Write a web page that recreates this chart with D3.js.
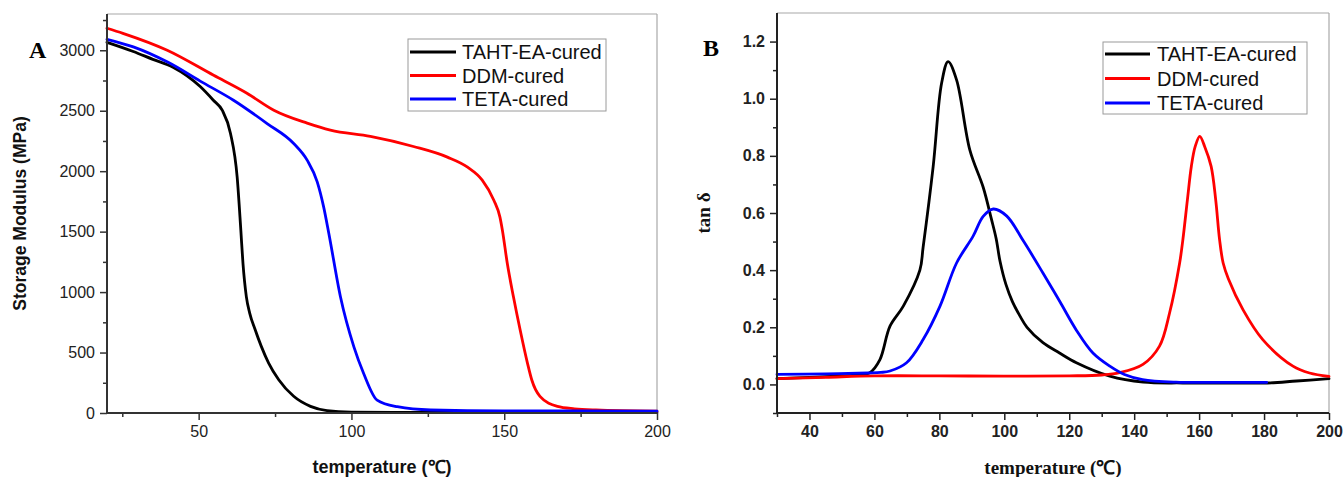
<!DOCTYPE html>
<html><head><meta charset="utf-8">
<script src="https://cdn.jsdelivr.net/npm/d3@7/dist/d3.min.js"></script>
<style>body{margin:0;background:#fff;} svg{display:block;}</style>
</head><body>
<svg id="c" width="1343" height="477"></svg>
<script>
// ---------- series ----------
const seriesNames = ["TAHT-EA-cured", "DDM-cured", "TETA-cured"];
const seriesColors = ["#000000", "#ff0000", "#0000ff"];

// ---------- Panel A data (storage modulus, MPa) ----------
const aTempBlack = [20, 28.6, 35, 41.6, 50.5, 54.8, 57.7, 60.4, 62.6, 63.8, 64.5, 65.6, 66.7, 68.5, 70.5, 72.9, 76.2, 81.1, 86.6, 92, 100, 120, 150, 200];
const aModBlack  = [3066, 2990, 2925, 2860, 2700, 2587, 2504, 2314, 1950, 1512, 1237, 963, 826, 688, 551, 413, 275, 138, 55, 20, 8, 5, 5, 5];
const aTempRed   = [20, 25.2, 39.7, 54.9, 65.8, 74.6, 85.5, 93.1, 106.2, 120.3, 131.4, 138, 142.8, 146.6, 148.6, 149.4, 151.0, 153.0, 155.2, 157.6, 159.0, 161.7, 167.4, 173, 180, 200];
const aModRed    = [3182, 3140, 3000, 2793, 2645, 2504, 2397, 2339, 2287, 2204, 2116, 2033, 1926, 1760, 1620, 1512, 1238, 963, 688, 413, 275, 138, 55, 35, 25, 15];
const aTempBlue  = [20, 28.6, 40, 50.5, 61.4, 72.4, 81.1, 85.5, 88.8, 90.9, 92.6, 96.4, 100.8, 104, 108.4, 115, 125.9, 150, 175, 200];
const aModBlue   = [3091, 3028, 2900, 2745, 2587, 2394, 2229, 2091, 1912, 1705, 1485, 961, 547, 327, 107, 52, 25, 18, 18, 15];
const aXTicks = [50, 100, 150, 200];
const aYTicks = [0, 500, 1000, 1500, 2000, 2500, 3000];

// ---------- Panel B data (tan delta) ----------
const bTempBlack = [30, 40, 50, 57, 58.6, 61.7, 64.8, 68.9, 74, 75, 78.1, 80.7, 82.7, 85.3, 89.4, 93.5, 96, 97.5, 98.7, 100.5, 102.5, 104.8, 107, 111.9, 117, 122.2, 132.5, 142.8, 155, 170, 181, 190, 200];
const bTanBlack  = [0.02, 0.025, 0.03, 0.035, 0.041, 0.087, 0.204, 0.274, 0.40, 0.48, 0.763, 1.055, 1.13, 1.066, 0.82, 0.69, 0.58, 0.51, 0.43, 0.35, 0.29, 0.24, 0.20, 0.146, 0.11, 0.076, 0.029, 0.008, 0.005, 0.005, 0.005, 0.012, 0.02];
const bTempRed   = [30, 45, 60, 80, 100, 120, 130, 135.5, 142.7, 147.8, 150.9, 154, 155, 156.4, 157.6, 158.8, 160.2, 161.7, 163.7, 165.1, 166.3, 167.4, 169, 173.5, 179.6, 188.9, 194, 200];
const bTanRed    = [0.02, 0.025, 0.03, 0.03, 0.029, 0.03, 0.033, 0.041, 0.07, 0.134, 0.25, 0.425, 0.507, 0.647, 0.763, 0.833, 0.868, 0.833, 0.763, 0.647, 0.507, 0.425, 0.37, 0.262, 0.157, 0.064, 0.04, 0.028];
const bTempBlue  = [30, 45, 58, 62, 64.8, 69.9, 75, 80.2, 85.3, 90.4, 93.5, 96.6, 100.7, 106, 111.9, 117.1, 122.2, 127.3, 132.5, 137, 142.6, 152.9, 165, 180.8];
const bTanBlue   = [0.035, 0.037, 0.04, 0.042, 0.047, 0.076, 0.157, 0.274, 0.425, 0.519, 0.588, 0.614, 0.59, 0.50, 0.39, 0.29, 0.19, 0.11, 0.064, 0.035, 0.017, 0.008, 0.007, 0.007];
const bXTicks = [40, 60, 80, 100, 120, 140, 160, 180, 200];
const bYTicks = [0.0, 0.2, 0.4, 0.6, 0.8, 1.0, 1.2];

const svg = d3.select("#c");
svg.append("rect").attr("width", 1343).attr("height", 477).attr("fill", "#fff");

function zip(xs, ys){ return xs.map((x,i)=>({x, y: ys[i]})); }

function panel(o){
  const g = svg.append("g");
  const x = d3.scaleLinear().domain(o.xDomain).range([o.left, o.right]);
  const y = d3.scaleLinear().domain(o.yDomain).range([o.bottom, o.top]);
  g.append("line").attr("x1", o.left).attr("x2", o.right).attr("y1", o.top).attr("y2", o.top).attr("stroke", "#a8a8a8").attr("stroke-width", 1.2);
  g.append("line").attr("x1", o.right).attr("x2", o.right).attr("y1", o.top).attr("y2", o.bottom).attr("stroke", "#a8a8a8").attr("stroke-width", 1.2);

  const line = d3.line().x(d=>x(d.x)).y(d=>y(d.y)).curve(o.curve);
  o.series.forEach((s,i)=>{
    g.append("path").datum(zip(s[0], s[1])).attr("d", line)
      .attr("fill","none").attr("stroke", seriesColors[i]).attr("stroke-width", 2.8)
      .attr("stroke-linejoin","round").attr("stroke-linecap","round");
  });

  const xAxisMinor = d3.axisBottom(x).tickValues(o.xMinor).tickSize(4).tickFormat("");
  const yAxisMinor = d3.axisLeft(y).tickValues(o.yMinor).tickSize(4).tickFormat("");
  const gxm = g.append("g").attr("transform", `translate(0,${o.bottom})`).call(xAxisMinor);
  const gym = g.append("g").attr("transform", `translate(${o.left},0)`).call(yAxisMinor);
  [gxm, gym].forEach(a=>{ a.select(".domain").remove(); a.selectAll("line").attr("stroke", o.axisColor).attr("stroke-width", 1.5); });

  const xAxis = d3.axisBottom(x).tickValues(o.xTicks).tickSize(7).tickPadding(6).tickFormat(o.xFmt);
  const yAxis = d3.axisLeft(y).tickValues(o.yTicks).tickSize(7).tickPadding(5).tickFormat(o.yFmt);
  const gx = g.append("g").attr("transform", `translate(0,${o.bottom})`).call(xAxis);
  const gy = g.append("g").attr("transform", `translate(${o.left},0)`).call(yAxis);
  [gx, gy].forEach(a=>{
    a.select(".domain").attr("stroke", o.axisColor).attr("stroke-width", 2);
    a.selectAll("line").attr("stroke", o.axisColor).attr("stroke-width", 1.5);
    a.selectAll("text").attr("fill", o.labelColor).style("font-family", "Liberation Sans, Arial, sans-serif")
      .style("font-size", o.tickFont + "px").style("font-weight", o.tickWeight);
  });
  gy.select(".domain").attr("d", `M-0,${o.bottom}V${o.top}`);
  gx.select(".domain").attr("d", `M${o.left},0H${o.right}`);

  g.append("text").attr("x", (o.left+o.right)/2).attr("y", o.xTitleY).attr("text-anchor","middle")
    .style("font-family", o.titleFamily).style("font-size", o.titleSize+"px").style("font-weight","bold")
    .attr("fill","#111").text("temperature (℃)");
  g.append("text").attr("transform", `translate(${o.yTitleX},${(o.top+o.bottom)/2}) rotate(-90)`).attr("text-anchor","middle")
    .attr("dominant-baseline","central")
    .style("font-family", o.titleFamily).style("font-size", o.yTitleSize+"px").style("font-weight","bold")
    .attr("fill","#111").text(o.yTitle);

  g.append("text").attr("x", o.letterX).attr("y", o.letterY).style("font-family","Liberation Serif, Times New Roman, serif")
    .style("font-size","24px").style("font-weight","bold").attr("fill","#000").text(o.letter);

  const L = o.legend;
  g.append("rect").attr("x", L.x).attr("y", L.y).attr("width", L.w).attr("height", L.h)
    .attr("fill","#fff").attr("stroke","#9a9a9a").attr("stroke-width",1);
  seriesNames.forEach((n,i)=>{
    const yy = L.y + L.row0 + i*L.step;
    g.append("line").attr("x1", L.x+2).attr("x2", L.x+L.lineW).attr("y1", yy).attr("y2", yy)
      .attr("stroke", seriesColors[i]).attr("stroke-width", 3);
    g.append("text").attr("x", L.x+L.textX).attr("y", yy).attr("dominant-baseline","central")
      .style("font-family","Liberation Sans, Arial, sans-serif").style("font-size","20px").attr("fill","#111").text(n);
  });
}

panel({
  left:107, right:657, top:14, bottom:413,
  xDomain:[20,200], yDomain:[0,3300],
  xTicks:aXTicks, yTicks:aYTicks,
  xMinor:[25,75,125,175], yMinor:[250,750,1250,1750,2250,2750,3250],
  xFmt:d3.format("d"), yFmt:d3.format("d"),
  curve:d3.curveMonotoneX,
  series:[[aTempBlack,aModBlack],[aTempRed,aModRed],[aTempBlue,aModBlue]],
  axisColor:"#333", labelColor:"#222", tickFont:16, tickWeight:"normal",
  titleFamily:"Liberation Sans, Arial, sans-serif", titleSize:18, yTitleSize:17.5,
  xTitleY:473, yTitleX:20, yTitle:"Storage Modulus (MPa)",
  letter:"A", letterX:29, letterY:58,
  legend:{x:408, y:39, w:198, h:72, row0:13, step:23.5, lineW:48, textX:54}
});

panel({
  left:777, right:1329, top:13, bottom:413,
  xDomain:[30,200], yDomain:[-0.1,1.3],
  xTicks:bXTicks, yTicks:bYTicks,
  xMinor:[30,50,70,90,110,130,150,170,190], yMinor:[-0.1,0.1,0.3,0.5,0.7,0.9,1.1],
  xFmt:d3.format("d"), yFmt:d3.format(".1f"),
  curve:d3.curveCatmullRom.alpha(0.5),
  series:[[bTempBlack,bTanBlack],[bTempRed,bTanRed],[bTempBlue,bTanBlue]],
  axisColor:"#222", labelColor:"#222", tickFont:16, tickWeight:"bold",
  titleFamily:"Liberation Serif, Times New Roman, serif", titleSize:19, yTitleSize:19,
  xTitleY:474, yTitleX:703, yTitle:"tan δ",
  letter:"B", letterX:703, letterY:56,
  legend:{x:1103, y:42, w:204, h:72, row0:12, step:24.5, lineW:47, textX:54}
});
</script>
</body></html>
